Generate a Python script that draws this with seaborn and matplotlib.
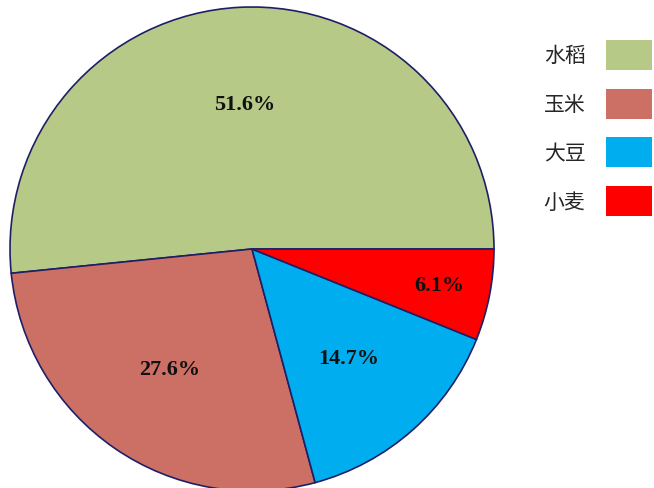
import numpy as np
import matplotlib
matplotlib.use("Agg")
import matplotlib.pyplot as plt
import matplotlib.patches as mpatches
import seaborn as sns

# 作物占比
crops = ["水稻", "玉米", "大豆", "小麦"]
shares = [51.6, 27.6, 14.7, 6.1]
colors = ["#B6C987", "#CC7066", "#00AEEF", "#FF0000"]

sns.set_theme(style="white")
plt.rcParams["font.family"] = ["Noto Sans CJK SC", "DejaVu Sans"]

fig = plt.figure(figsize=(6.54, 4.89), dpi=100)
# pie axes: centre ~ (252, 250) px, radius ~242 px
ax = fig.add_axes([10 / 654, -3 / 489, 484 / 654, 484 / 489])

wedges, texts, autotexts = ax.pie(
    shares, colors=colors, startangle=0, counterclock=True,
    autopct="%.1f%%", pctdistance=0.6, radius=1.0,
    wedgeprops=dict(edgecolor="#1F1F66", linewidth=1.2),
    textprops=dict(family="Liberation Serif", fontweight="bold",
                   fontsize=16, color="#111111"),
)
# smallest slice label pushed outwards
w = wedges[-1]
ang = np.deg2rad((w.theta1 + w.theta2) / 2)
autotexts[-1].set_position((0.79 * np.cos(ang), 0.79 * np.sin(ang)))

ax.set_xlim(-1, 1)
ax.set_ylim(-1, 1)
ax.set_aspect("equal")
ax.axis("off")
for w in wedges:
    w.set_clip_on(False)

handles = [mpatches.Patch(facecolor=c, edgecolor="none") for c in colors]
fig.legend(
    handles, crops, loc="upper left", bbox_to_anchor=(525 / 654, 1 - 22 / 489),
    frameon=False, markerfirst=False, fontsize=15,
    handlelength=2.2, handleheight=1.84, labelspacing=0.9, handletextpad=1.0,
)

fig.savefig("out.png", dpi=100, facecolor="white")
